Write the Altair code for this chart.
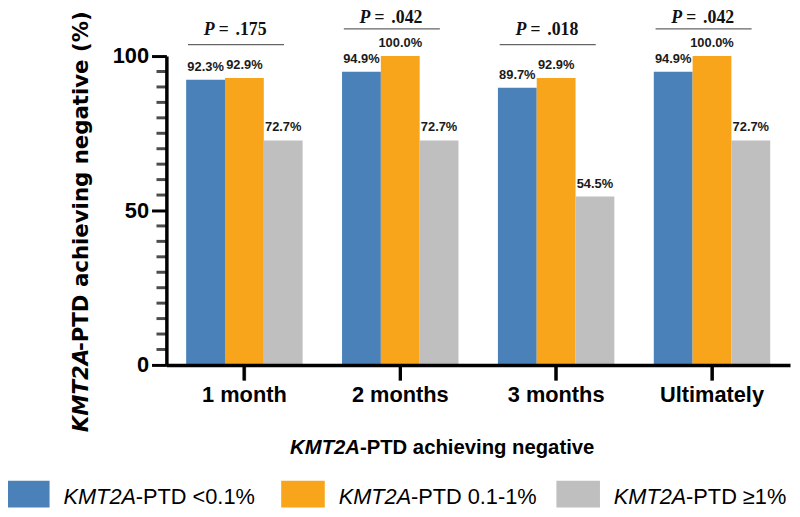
import altair as alt
import pandas as pd

# ---- data ----
categories = ["1 month", "2 months", "3 months", "Ultimately"]
series = ["KMT2A-PTD <0.1%", "KMT2A-PTD 0.1-1%", "KMT2A-PTD \u22651%"]
colors = ["#4a81b8", "#f8a51c", "#bfbfbf"]
pct_low = [92.3, 94.9, 89.7, 94.9]
pct_mid = [92.9, 100.0, 92.9, 100.0]
pct_high = [72.7, 72.7, 54.5, 72.7]
p_values = [".175", ".042", ".018", ".042"]
p_lower_groups = ["1 month", "3 months"]
p_upper_groups = ["2 months", "Ultimately"]
y_major_ticks = [0, 50, 100]
y_minor_ticks = [5, 10, 15, 20, 25, 30, 35, 40, 45, 55, 60, 65, 70, 75, 80, 85, 90, 95]

rows = []
for s, vals in zip(series, [pct_low, pct_mid, pct_high]):
    for c, v in zip(categories, vals):
        rows.append({"cat": c, "series": s, "value": v, "label": f"{v:.1f}%"})
bars_df = pd.DataFrame(rows)
p_df = pd.DataFrame({"cat": categories, "p": p_values})
cat_df = pd.DataFrame({"cat": categories})
legend_df = pd.DataFrame({"series": series})
minor_df = pd.DataFrame({"value": y_minor_ticks})
dummy = pd.DataFrame({"d": [0]})

SANS = "Liberation Sans"
H = 312

x_scale = alt.Scale(domain=categories, paddingInner=0.253, paddingOuter=0.127)
xo_scale = alt.Scale(domain=series, paddingInner=0, paddingOuter=0)
y_scale = alt.Scale(domain=[0, 100], nice=False)
color_scale = alt.Scale(domain=series, range=colors)

x_enc = alt.X(
    "cat:N", scale=x_scale, sort=categories,
    axis=alt.Axis(title=None, labelAngle=0, ticks=True, tickSize=15, tickWidth=3, domainWidth=3.5,
                  domainColor="black", tickColor="black", labelColor="black",
                  labelFont=SANS, labelFontWeight="bold", labelFontSize=22,
                  labelPadding=5, grid=False, zindex=1),
)
y_enc = alt.Y(
    "value:Q", scale=y_scale,
    axis=alt.Axis(title=None, values=y_major_ticks, ticks=True, tickSize=15,
                  tickWidth=3, domainWidth=3.5, domainColor="black", tickColor="black",
                  labelColor="black", labelFont=SANS, labelFontWeight="bold",
                  labelFontSize=22, labelPadding=3, labelOverlap=False, grid=False, zindex=1),
)
xo_enc = alt.XOffset("series:N", scale=xo_scale, sort=series)
color_enc = alt.Color("series:N", scale=color_scale, legend=None)

bars = alt.Chart(bars_df).mark_bar().encode(x=x_enc, xOffset=xo_enc, y=y_enc, color=color_enc)

labels = alt.Chart(bars_df).mark_text(
    font=SANS, fontWeight="bold", fontSize=13, baseline="bottom", dy=-6, color="#1a1a1a"
).encode(x=alt.X("cat:N", sort=categories), xOffset=xo_enc, y=alt.Y("value:Q"), text="label:N")

# minor ticks of the y axis, placed through the y scale
minor = alt.Chart(minor_df).mark_tick(
    orient="horizontal", size=10, thickness=3, color="black"
).encode(x=alt.value(-5), y=alt.Y("value:Q"))

# category ticks of the x axis, placed through the x scale
xticks = alt.Chart(cat_df).mark_tick(
    orient="vertical", size=15, thickness=3.5, color="black"
).encode(x=alt.X("cat:N", sort=categories), y=alt.value(H + 8.5))


def p_layer(groups, line_y, text_y):
    base = alt.Chart(p_df).transform_filter(alt.FieldOneOfPredicate(field="cat", oneOf=groups))
    line = base.mark_tick(orient="horizontal", size=97, thickness=1.3, color="#222222", xOffset=-8.5).encode(
        x=alt.X("cat:N", sort=categories), y=alt.value(line_y))
    ptxt = base.mark_text(font="Liberation Serif", fontWeight="bold", fontStyle="italic", fontSize=18,
                          align="right", baseline="alphabetic", dx=-16, color="#111111").encode(
        x=alt.X("cat:N", sort=categories), y=alt.value(text_y), text=alt.value("P ="))
    vtxt = base.mark_text(font="Liberation Serif", fontWeight="bold", fontSize=18,
                          align="left", baseline="alphabetic", dx=-9, color="#111111").encode(
        x=alt.X("cat:N", sort=categories), y=alt.value(text_y), text="p:N")
    return line + ptxt + vtxt


p_low = p_layer(p_lower_groups, -11.5, -21)
p_up = p_layer(p_upper_groups, -27.5, -33.5)

# axis titles (mixed italic / upright)
ytitle_a = alt.Chart(dummy).mark_text(text="KMT2A", font="DejaVu Sans", fontWeight="bold", fontStyle="italic",
                                      fontSize=21.5, angle=270, align="left", baseline="alphabetic",
                                      color="black").encode(x=alt.value(-79), y=alt.value(380))
ytitle_b = alt.Chart(dummy).mark_text(text="-PTD achieving negative (%)", font="DejaVu Sans", fontWeight="bold",
                                      fontSize=21.5, angle=270, align="left", baseline="alphabetic",
                                      color="black").encode(x=alt.value(-79), y=alt.value(298))
xtitle_a = alt.Chart(dummy).mark_text(text="KMT2A", font=SANS, fontWeight="bold", fontStyle="italic",
                                      fontSize=20.5, align="left", baseline="alphabetic",
                                      color="black").encode(x=alt.value(125), y=alt.value(402))
xtitle_b = alt.Chart(dummy).mark_text(text="-PTD achieving negative", font=SANS, fontWeight="bold",
                                      fontSize=20.5, align="left", baseline="alphabetic",
                                      color="black").encode(x=alt.value(195.5), y=alt.value(402))

main = alt.layer(bars, labels, minor, xticks, p_low, p_up, ytitle_a, ytitle_b, xtitle_a, xtitle_b)

# custom legend
leg_x = alt.X("series:N", sort=series,
              scale=alt.Scale(type="point", domain=series, range=[-140, 416], padding=0), axis=None)
leg_sw = alt.Chart(legend_df).mark_point(
    shape="M-1,-0.614L1,-0.614L1,0.614L-1,0.614Z", size=1936, filled=True, opacity=1, strokeWidth=0
).encode(x=leg_x, y=alt.value(442.5), color=color_enc)
leg_it = alt.Chart(legend_df).mark_text(
    text="KMT2A", font=SANS, fontStyle="italic", fontSize=22, align="left", baseline="alphabetic",
    dx=36, color="black"
).encode(x=leg_x, y=alt.value(453))
leg_rest = alt.Chart(legend_df).transform_calculate(
    rest="replace(datum.series, 'KMT2A', '')"
).mark_text(font=SANS, fontSize=22, align="left", baseline="alphabetic", dx=36 + 73, color="black").encode(
    x=leg_x, y=alt.value(453), text="rest:N")
legend = alt.layer(leg_sw, leg_it, leg_rest)

chart = alt.layer(main, legend).resolve_scale(x="independent").properties(
    width=630, height=H,
    padding={"left": 160, "top": 46, "right": 2, "bottom": 142},
    autosize=alt.AutoSizeParams(type="none"),
    background="white",
).configure_view(stroke=None)

chart.save("out.html", embed_options={"renderer": "svg", "actions": False})
